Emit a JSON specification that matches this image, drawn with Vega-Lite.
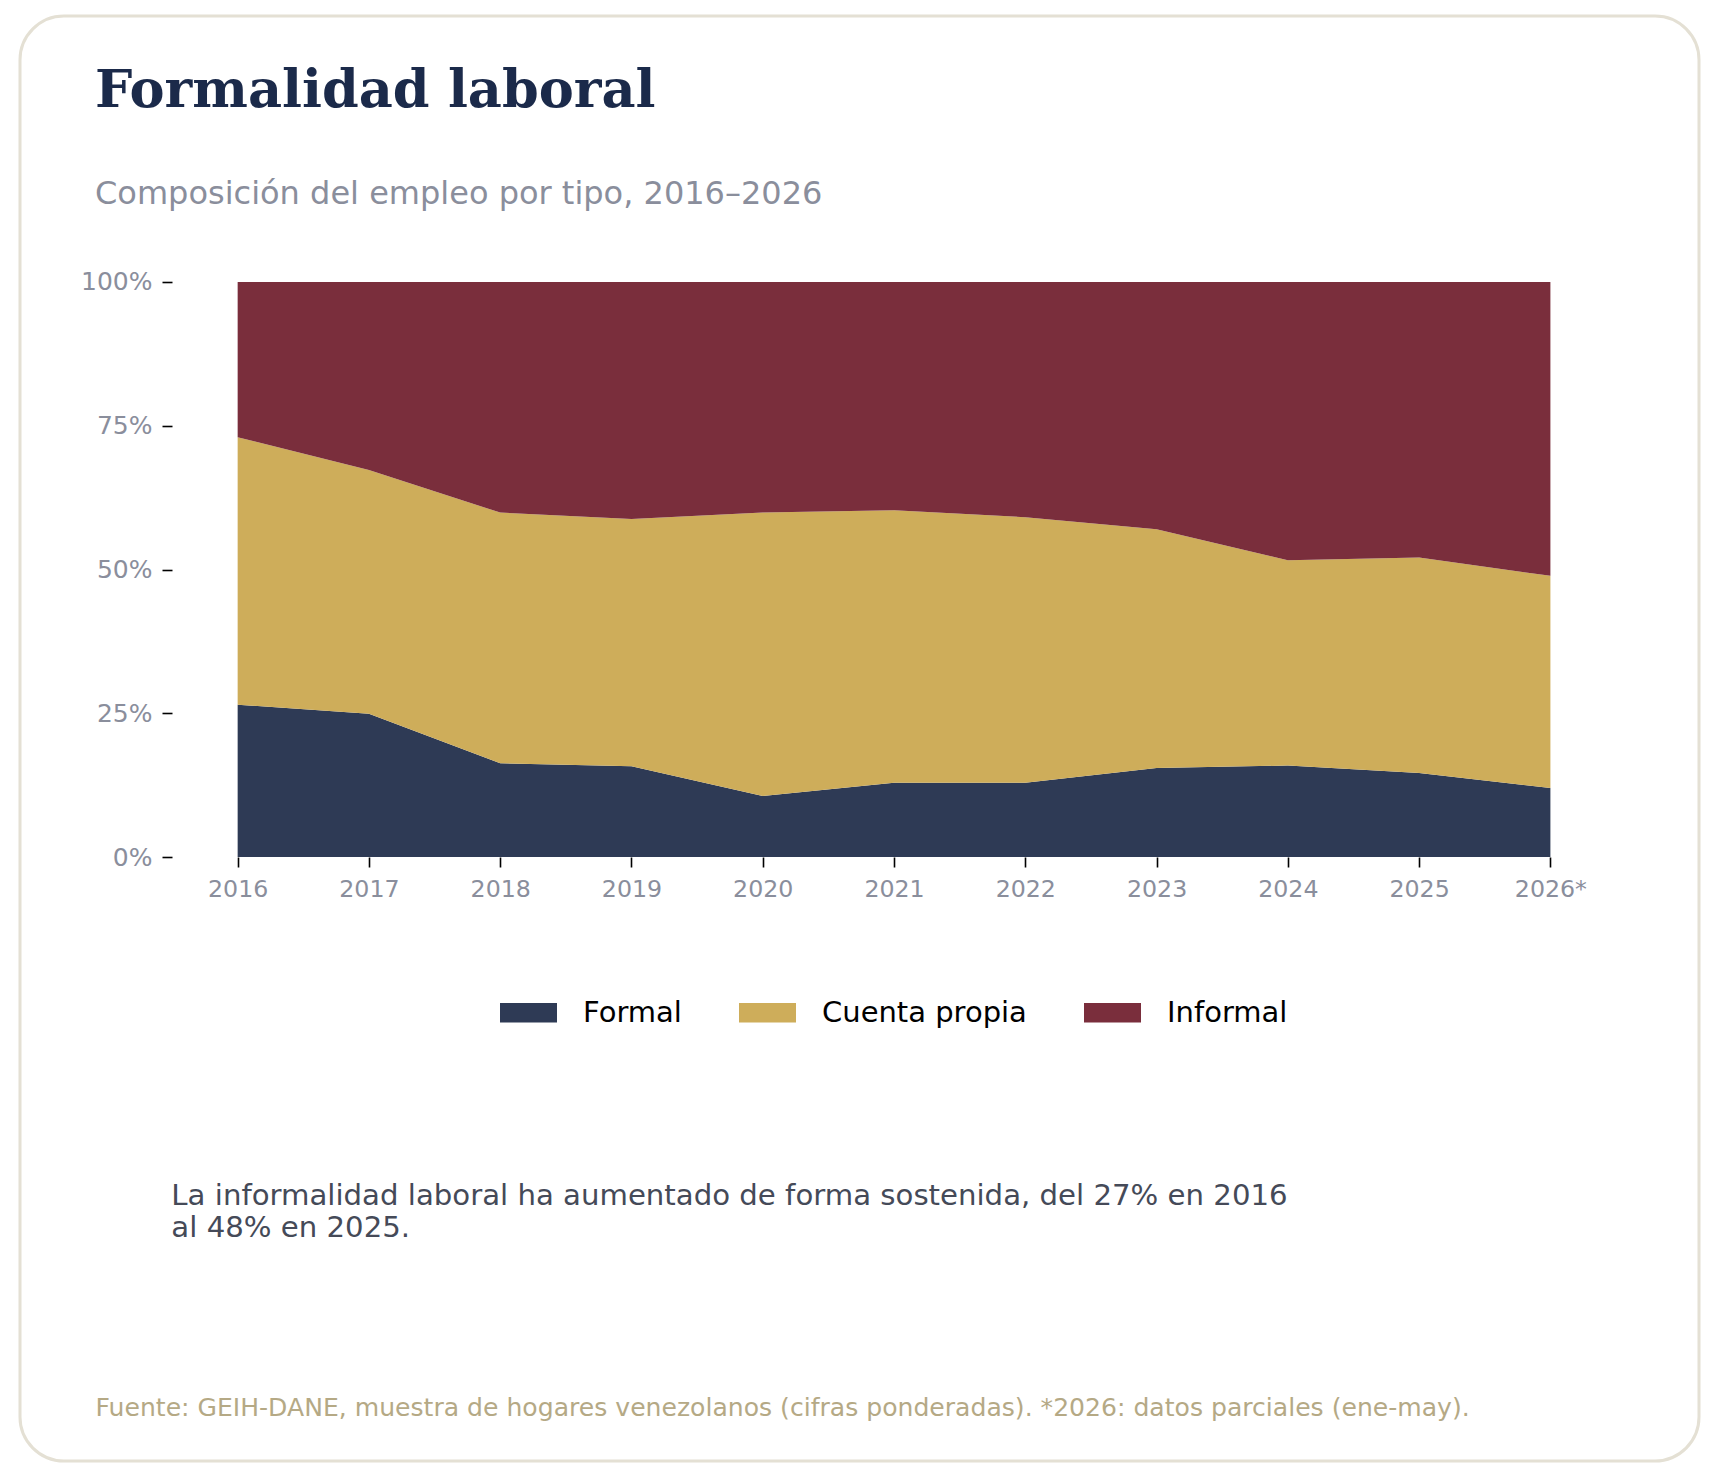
{
  "$schema": "https://vega.github.io/schema/vega-lite/v6.json",
  "width": 1679,
  "height": 1445,
  "autosize": {"type": "none"},
  "padding": {"left": 20, "top": 16, "right": 21, "bottom": 19},
  "background": "white",
  "title": {
    "text": "Formalidad laboral",
    "subtitle": "Composición del empleo por tipo, 2016–2026",
    "anchor": "start",
    "frame": "group",
    "orient": "top",
    "offset": -194,
    "dx": 75,
    "font": "DejaVu Serif",
    "fontSize": 52.6,
    "fontWeight": "bold",
    "color": "#1b2a4a",
    "subtitleFont": "DejaVu Sans",
    "subtitleFontSize": 32,
    "subtitleColor": "#8a8e9c",
    "subtitlePadding": 61
  },
  "layer": [
    {
      "data": {
        "values": [
          {"year": 2016, "tipo": "Formal", "pct": 26.5},
          {"year": 2016, "tipo": "Cuenta propia", "pct": 46.5},
          {"year": 2016, "tipo": "Informal", "pct": 27.0},
          {"year": 2017, "tipo": "Formal", "pct": 24.9},
          {"year": 2017, "tipo": "Cuenta propia", "pct": 42.4},
          {"year": 2017, "tipo": "Informal", "pct": 32.7},
          {"year": 2018, "tipo": "Formal", "pct": 16.3},
          {"year": 2018, "tipo": "Cuenta propia", "pct": 43.6},
          {"year": 2018, "tipo": "Informal", "pct": 40.1},
          {"year": 2019, "tipo": "Formal", "pct": 15.8},
          {"year": 2019, "tipo": "Cuenta propia", "pct": 43.0},
          {"year": 2019, "tipo": "Informal", "pct": 41.2},
          {"year": 2020, "tipo": "Formal", "pct": 10.6},
          {"year": 2020, "tipo": "Cuenta propia", "pct": 49.3},
          {"year": 2020, "tipo": "Informal", "pct": 40.1},
          {"year": 2021, "tipo": "Formal", "pct": 12.9},
          {"year": 2021, "tipo": "Cuenta propia", "pct": 47.4},
          {"year": 2021, "tipo": "Informal", "pct": 39.7},
          {"year": 2022, "tipo": "Formal", "pct": 12.9},
          {"year": 2022, "tipo": "Cuenta propia", "pct": 46.2},
          {"year": 2022, "tipo": "Informal", "pct": 40.9},
          {"year": 2023, "tipo": "Formal", "pct": 15.5},
          {"year": 2023, "tipo": "Cuenta propia", "pct": 41.5},
          {"year": 2023, "tipo": "Informal", "pct": 43.0},
          {"year": 2024, "tipo": "Formal", "pct": 15.9},
          {"year": 2024, "tipo": "Cuenta propia", "pct": 35.7},
          {"year": 2024, "tipo": "Informal", "pct": 48.4},
          {"year": 2025, "tipo": "Formal", "pct": 14.6},
          {"year": 2025, "tipo": "Cuenta propia", "pct": 37.5},
          {"year": 2025, "tipo": "Informal", "pct": 47.9},
          {"year": 2026, "tipo": "Formal", "pct": 12.0},
          {"year": 2026, "tipo": "Cuenta propia", "pct": 36.9},
          {"year": 2026, "tipo": "Informal", "pct": 51.1}
        ]
      },
      "transform": [
        {"calculate": "indexof(['Formal', 'Cuenta propia', 'Informal'], datum.tipo)", "as": "orden"}
      ],
      "mark": {"type": "area", "interpolate": "linear"},
      "encoding": {
        "x": {
          "field": "year",
          "type": "quantitative",
          "scale": {"domain": [2014.342, 2027.132], "nice": false, "zero": false},
          "axis": {
            "values": [2016, 2017, 2018, 2019, 2020, 2021, 2022, 2023, 2024, 2025, 2026],
            "labelExpr": "datum.value == 2026 ? '2026*' : format(datum.value, 'd')",
            "offset": -604,
            "domain": false,
            "grid": false,
            "title": null,
            "tickSize": 10,
            "tickWidth": 1.6,
            "tickColor": "black",
            "labelFont": "DejaVu Sans",
            "labelFontSize": 23.7,
            "labelColor": "#8a8e9c",
            "labelPadding": 10.5,
            "labelFlush": false,
            "labelOverlap": false
          }
        },
        "y": {
          "field": "pct",
          "type": "quantitative",
          "stack": "normalize",
          "scale": {"domain": [-1.0504, 1.4626], "nice": false, "zero": false},
          "axis": {
            "values": [0, 0.25, 0.5, 0.75, 1],
            "format": ".0%",
            "offset": -152,
            "domain": false,
            "grid": false,
            "title": null,
            "tickSize": 10,
            "tickWidth": 1.6,
            "tickColor": "black",
            "labelFont": "DejaVu Sans",
            "labelFontSize": 25,
            "labelColor": "#8a8e9c",
            "labelPadding": 10
          }
        },
        "order": {"field": "orden", "type": "quantitative"},
        "color": {
          "field": "tipo",
          "type": "nominal",
          "sort": ["Formal", "Cuenta propia", "Informal"],
          "scale": {
            "domain": ["Formal", "Cuenta propia", "Informal"],
            "range": ["#2e3a55", "#cead5a", "#7a2e3c"]
          },
          "legend": {
            "title": null,
            "orient": "none",
            "direction": "horizontal",
            "legendX": 480,
            "legendY": 968,
            "symbolType": "M-1,-0.345H1V0.345H-1Z",
            "symbolSize": 3249,
            "symbolStrokeWidth": 0,
            "symbolOpacity": 1,
            "labelFont": "DejaVu Sans",
            "labelFontSize": 29,
            "labelColor": "black",
            "labelLimit": 600,
            "labelOffset": 26,
            "columnPadding": 57,
            "padding": 0
          }
        }
      }
    },
    {
      "data": {"values": [{}]},
      "mark": {
        "type": "text",
        "text": ["La informalidad laboral ha aumentado de forma sostenida, del 27% en 2016", "al 48% en 2025."],
        "align": "left",
        "baseline": "alphabetic",
        "font": "DejaVu Sans",
        "fontSize": 29.2,
        "lineHeight": 31.8,
        "color": "#454a58"
      },
      "encoding": {
        "x": {"datum": 2015.495, "type": "quantitative"},
        "y": {"datum": -0.606, "type": "quantitative"}
      }
    },
    {
      "data": {"values": [{}]},
      "mark": {
        "type": "text",
        "text": "Fuente: GEIH-DANE, muestra de hogares venezolanos (cifras ponderadas). *2026: datos parciales (ene-may).",
        "align": "left",
        "baseline": "alphabetic",
        "font": "DejaVu Sans",
        "fontSize": 25.1,
        "color": "#b5a985"
      },
      "encoding": {
        "x": {"datum": 2014.917, "type": "quantitative"},
        "y": {"datum": -0.973, "type": "quantitative"}
      }
    }
  ],
  "config": {
    "view": {"stroke": "#e4e0d4", "strokeWidth": 3, "cornerRadius": 44, "fill": "white"}
  }
}
